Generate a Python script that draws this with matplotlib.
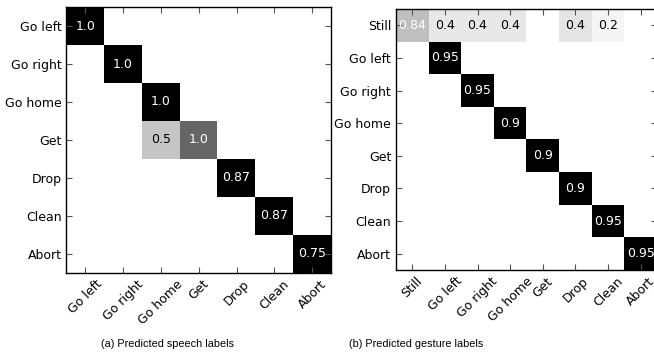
import matplotlib
matplotlib.use("Agg")
import matplotlib.pyplot as plt
import numpy as np

# Labels
speech_labels = ["Go left", "Go right", "Go home", "Get", "Drop", "Clean", "Abort"]
gesture_labels = ["Still", "Go left", "Go right", "Go home", "Get", "Drop", "Clean", "Abort"]

# Annotated values (NaN = no text)
n = np.nan
speech_values = np.array([
    [1.0, n, n, n, n, n, n],
    [n, 1.0, n, n, n, n, n],
    [n, n, 1.0, n, n, n, n],
    [n, n, 0.5, 1.0, n, n, n],
    [n, n, n, n, 0.87, n, n],
    [n, n, n, n, n, 0.87, n],
    [n, n, n, n, n, n, 0.75],
])
gesture_values = np.array([
    [0.84, 0.4, 0.4, 0.4, n, 0.4, 0.2, n],
    [n, 0.95, n, n, n, n, n, n],
    [n, n, 0.95, n, n, n, n, n],
    [n, n, n, 0.9, n, n, n, n],
    [n, n, n, n, 0.9, n, n, n],
    [n, n, n, n, n, 0.9, n, n],
    [n, n, n, n, n, n, 0.95, n],
    [n, n, n, n, n, n, n, 0.95],
])

# Cell shading as seen in the picture (0 = white, 1 = black)
speech_shade = np.array([
    [1, 0, 0, 0, 0, 0, 0],
    [0, 1, 0, 0, 0, 0, 0],
    [0, 0, 1, 0, 0, 0, 0],
    [0, 0, 0.23, 0.6, 0, 0, 0],
    [0, 0, 0, 0, 1, 0, 0],
    [0, 0, 0, 0, 0, 1, 0],
    [0, 0, 0, 0, 0, 0, 1],
])
gesture_shade = np.array([
    [0.25, 0.09, 0.09, 0.09, 0, 0.105, 0.04, 0],
    [0, 1, 0, 0, 0, 0, 0, 0],
    [0, 0, 1, 0, 0, 0, 0, 0],
    [0, 0, 0, 1, 0, 0, 0, 0],
    [0, 0, 0, 0, 1, 0, 0, 0],
    [0, 0, 0, 0, 0, 1, 0, 0],
    [0, 0, 0, 0, 0, 0, 1, 0],
    [0, 0, 0, 0, 0, 0, 0, 1],
])

captions = ["(a) Predicted speech labels", "(b) Predicted gesture labels"]


def draw_matrix(ax, shade, values, labels):
    ax.imshow(shade, cmap="gray_r", vmin=0, vmax=1, interpolation="nearest", aspect="auto")
    k = len(labels)
    for i in range(k):
        for j in range(k):
            v = values[i, j]
            if np.isnan(v):
                continue
            col = "white" if shade[i, j] > 0.245 else "black"
            ax.text(j, i, str(v), ha="center", va="center", color=col, fontsize=9)
    ax.set_xticks(range(k))
    ax.set_yticks(range(k))
    ax.set_xticklabels(labels, rotation=45, ha="center", fontsize=9)
    ax.set_yticklabels(labels, fontsize=9)
    ax.set_xlim(-0.5, k - 0.5)
    ax.set_ylim(k - 0.5, -0.5)
    ax.tick_params(direction="in", top=True, right=True, length=4, width=0.8, color="#555555")
    for s in ax.spines.values():
        s.set_linewidth(1.0)


fig = plt.figure(figsize=(6.54, 3.56), dpi=100)
ax1 = fig.add_axes([0.1014, 0.234, 0.405, 0.746])
ax2 = fig.add_axes([0.6055, 0.2416, 0.399, 0.733])

draw_matrix(ax1, speech_shade, speech_values, speech_labels)
draw_matrix(ax2, gesture_shade, gesture_values, gesture_labels)

fig.text(167.7 / 654, 0.034, captions[0], ha="center", va="center",
         fontsize=7.8, family="Liberation Sans")
fig.text(416 / 654, 0.034, captions[1], ha="center", va="center",
         fontsize=7.8, family="Liberation Sans")

fig.savefig("out.png", dpi=100)
